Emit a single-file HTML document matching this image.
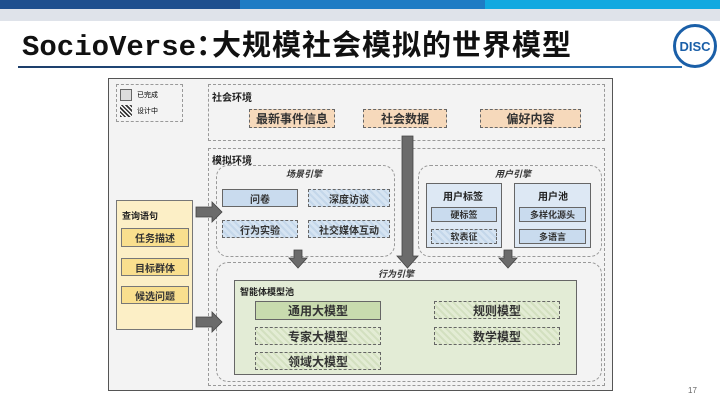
<!DOCTYPE html>
<html><head><meta charset="utf-8"><style>
body{margin:0;width:720px;height:405px;overflow:hidden;background:#fff;font-family:"Liberation Sans","Noto Sans CJK SC",sans-serif;position:relative}
.a{position:absolute;box-sizing:border-box}
.d{border:1.3px dashed #999}
.o{background:#f6d9bb;border:1.3px dashed #666;font-size:12px;display:flex;align-items:center;justify-content:center;font-weight:bold;color:#333}
.b{background:#c9dbee;border:1.3px solid #666;font-size:10px;display:flex;align-items:center;justify-content:center;font-weight:bold;color:#333}
.bh{background:repeating-linear-gradient(45deg,#d6e4f2 0 3px,#c4d7ea 3px 5px);border:1.3px dashed #666}
.g{background:#c8dbae;border:1.3px solid #666;font-size:12px;display:flex;align-items:center;justify-content:center;font-weight:bold;color:#333}
.gh{background:repeating-linear-gradient(45deg,#e3ecd4 0 3px,#d3e0c0 3px 5px);border:1.3px dashed #666}
.y{background:#f9df8e;border:1.3px solid #777;font-size:10px;display:flex;align-items:center;justify-content:center;font-weight:bold;color:#333}
.l{font-size:10px;font-weight:bold;color:#222}
.i{font-style:italic;font-size:9px;font-weight:bold;color:#333}
</style></head><body>
<div class="a" style="left:0;top:0;width:240px;height:9px;background:#1f4f8e"></div>
<div class="a" style="left:240px;top:0;width:245px;height:9px;background:#1f7cc4"></div>
<div class="a" style="left:485px;top:0;width:235px;height:9px;background:#12a9e0"></div>
<div class="a" style="left:0;top:9px;width:720px;height:12px;background:#dfe3ea"></div>
<div class="a" style="left:22px;top:26px;font-size:29px;line-height:34px;font-weight:bold;color:#111;white-space:nowrap;display:flex;align-items:baseline"><span style="font-family:'Liberation Mono',monospace;letter-spacing:0px">SocioVerse</span><span style="display:inline-block;width:16px;font-family:'Noto Sans CJK SC',sans-serif;overflow:hidden">：</span><span style="font-family:'Noto Sans CJK SC',sans-serif;font-size:29px;letter-spacing:1px">大规模社会模拟的世界模型</span></div>
<div class="a" style="left:18px;top:66px;width:664px;height:2px;background:linear-gradient(90deg,#1d3e6a,#2a6fb0)"></div>
<div class="a" style="left:673px;top:24px;width:44px;height:44px;border-radius:50%;border:3px solid #1a5fa8;background:#fff;color:#1a5fa8;font-weight:bold;font-size:13px;display:flex;align-items:center;justify-content:center">DISC</div>

<div class="a" style="left:108px;top:78px;width:505px;height:313px;border:1.5px solid #555;background:#f3f3f3"></div>
<div class="a d" style="left:116px;top:84px;width:67px;height:38px"></div>
<div class="a" style="left:120px;top:89px;width:12px;height:12px;background:#ddd;border:1px solid #666"></div>
<div class="a" style="left:137px;top:90px;font-size:7px">已完成</div>
<div class="a" style="left:120px;top:105px;width:12px;height:12px;background:repeating-linear-gradient(45deg,#333 0 1.5px,#fff 1.5px 3px)"></div>
<div class="a" style="left:137px;top:106px;font-size:7px">设计中</div>

<div class="a d" style="left:208px;top:84px;width:397px;height:57px"></div>
<div class="a l" style="left:212px;top:89px">社会环境</div>
<div class="a o" style="left:249px;top:109px;width:86px;height:19px">最新事件信息</div>
<div class="a o" style="left:363px;top:109px;width:84px;height:19px">社会数据</div>
<div class="a o" style="left:480px;top:109px;width:101px;height:19px">偏好内容</div>

<div class="a d" style="left:208px;top:148px;width:397px;height:238px"></div>
<div class="a l" style="left:212px;top:152px">模拟环境</div>
<div class="a d" style="left:216px;top:165px;width:179px;height:92px;border-radius:12px"></div>
<div class="a i" style="left:286px;top:167px">场景引擎</div>
<div class="a b" style="left:222px;top:189px;width:76px;height:18px">问卷</div>
<div class="a b bh" style="left:308px;top:189px;width:82px;height:18px">深度访谈</div>
<div class="a b bh" style="left:222px;top:220px;width:76px;height:18px">行为实验</div>
<div class="a b bh" style="left:308px;top:220px;width:82px;height:18px">社交媒体互动</div>

<div class="a d" style="left:418px;top:165px;width:184px;height:92px;border-radius:12px"></div>
<div class="a i" style="left:495px;top:167px">用户引擎</div>
<div class="a" style="left:426px;top:183px;width:76px;height:65px;background:#dde8f4;border:1.3px solid #666"></div>
<div class="a l" style="left:443px;top:188px">用户标签</div>
<div class="a b" style="left:431px;top:207px;width:66px;height:15px;font-size:9px">硬标签</div>
<div class="a b bh" style="left:431px;top:229px;width:66px;height:15px;font-size:9px">软表征</div>
<div class="a" style="left:514px;top:183px;width:77px;height:65px;background:#dde8f4;border:1.3px solid #666"></div>
<div class="a l" style="left:538px;top:188px">用户池</div>
<div class="a b" style="left:519px;top:207px;width:67px;height:15px;font-size:9px">多样化源头</div>
<div class="a b" style="left:519px;top:229px;width:67px;height:15px;font-size:9px">多语言</div>

<div class="a" style="left:116px;top:200px;width:77px;height:130px;background:#fcefc6;border:1.3px solid #777"></div>
<div class="a l" style="left:122px;top:209px;font-size:9px">查询语句</div>
<div class="a y" style="left:121px;top:228px;width:68px;height:19px">任务描述</div>
<div class="a y" style="left:121px;top:258px;width:68px;height:18px">目标群体</div>
<div class="a y" style="left:121px;top:286px;width:68px;height:18px">候选问题</div>

<div class="a d" style="left:216px;top:262px;width:386px;height:120px;border-radius:12px"></div>
<div class="a i" style="left:378px;top:267px">行为引擎</div>
<div class="a" style="left:234px;top:280px;width:343px;height:95px;background:#e3ecd6;border:1.3px solid #666"></div>
<div class="a l" style="left:240px;top:285px;font-size:9px">智能体模型池</div>
<div class="a g" style="left:255px;top:301px;width:126px;height:19px">通用大模型</div>
<div class="a g gh" style="left:255px;top:327px;width:126px;height:18px">专家大模型</div>
<div class="a g gh" style="left:255px;top:352px;width:126px;height:18px">领域大模型</div>
<div class="a g gh" style="left:434px;top:301px;width:126px;height:18px">规则模型</div>
<div class="a g gh" style="left:434px;top:327px;width:126px;height:18px">数学模型</div>

<svg class="a" style="left:0;top:0" width="720" height="405">
<g fill="#6b6b6b" stroke="#444" stroke-width="0.8">
<polygon points="402,136 413,136 413,256 418,256 407.5,268 397,256 402,256"/>
<polygon points="196,207 212,207 212,202 222,212 212,222 212,217 196,217"/>
<polygon points="196,317 212,317 212,312 222,322 212,332 212,327 196,327"/>
<polygon points="294,250 302,250 302,258 307,258 298,268 289,258 294,258"/>
<polygon points="504,250 512,250 512,258 517,258 508,268 499,258 504,258"/>
</g></svg>
<div class="a" style="left:688px;top:386px;font-size:8px;color:#666">17</div>
</body></html>
